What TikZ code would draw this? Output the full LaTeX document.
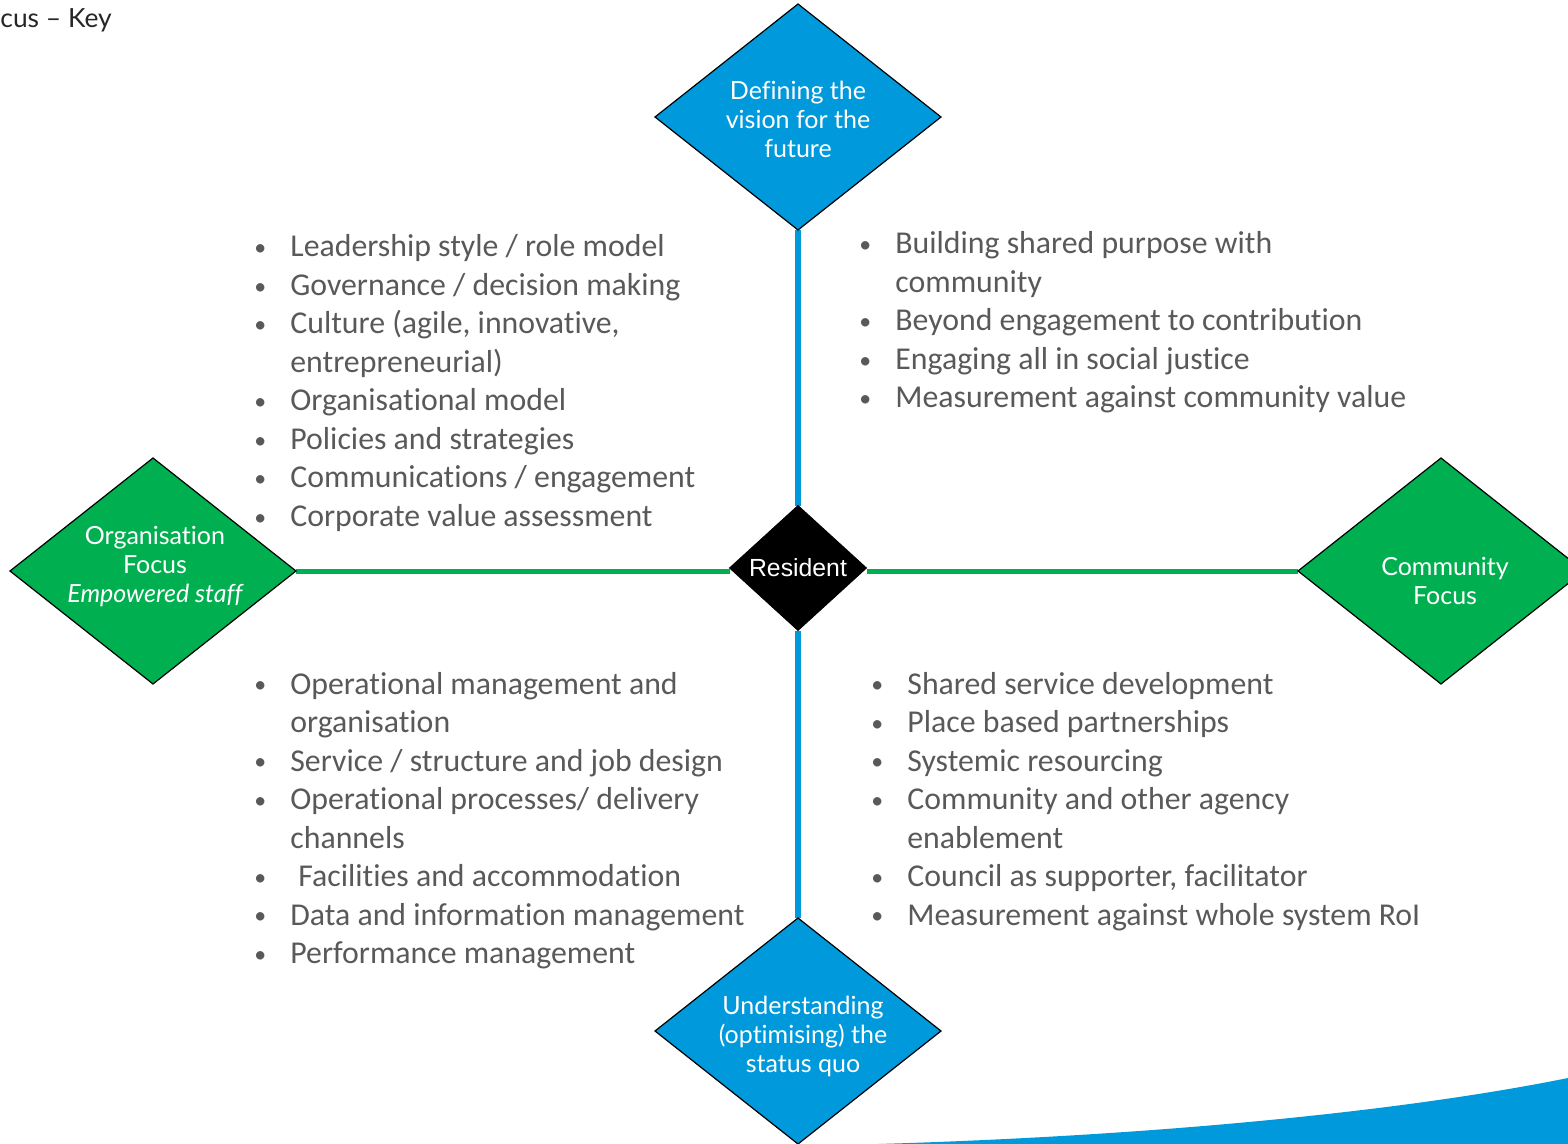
\documentclass[tikz,border=0pt]{standalone}
\usepackage{fontspec}
\setmainfont{Carlito}[Ligatures=NoCommon]
\newfontfamily\diafont{Lato}[Ligatures=NoCommon]
\newfontfamily\resfont{Liberation Sans}
\usetikzlibrary{shapes.geometric,backgrounds}
\definecolor{vblue}{RGB}{0,153,219}
\definecolor{fgreen}{RGB}{0,176,80}
\definecolor{bodygray}{RGB}{89,89,89}
\newcommand\bitem[1]{\makebox[18pt][l]{\raisebox{0.6pt}{\scalebox{0.75}{\textbullet}}}#1}
\newcommand\bcont[1]{\hspace*{18pt}#1}
\begin{document}
\begin{tikzpicture}[x=0.5pt,y=-0.5pt,
  bigdia/.style={diamond, draw=black, line width=0.6pt, minimum width=143pt,
    minimum height=113pt, inner sep=0pt, outer sep=0pt},
  bluedia/.style={bigdia, fill=vblue},
  greendia/.style={bigdia, fill=fgreen},
  diatext/.style={text=white, align=center, inner sep=0pt,
    font=\diafont\fontsize{12.5}{14.5}\selectfont},
  resdia/.style={diamond, fill=black, draw=black, minimum width=68.5pt,
    minimum height=62.5pt, inner sep=0pt, outer sep=0pt, aspect=1.1,
    text=white, font=\resfont\fontsize{12.4}{14}\selectfont},
  vline/.style={draw=vblue, line width=3pt},
  hline/.style={draw=fgreen, line width=2.5pt},
  blist/.style={anchor=base west, inner sep=0pt, text=bodygray,
    font=\fontsize{15.9}{19.25}\selectfont},
]
\useasboundingbox (0,0) rectangle (1568,1144);
\clip (0,0) rectangle (1568,1144);

% heading fragment
\node[anchor=base west, inner sep=0pt, text=black!85,
  font=\diafont\fontsize{13.2}{15}\selectfont] (head) at (0,28) {cus – Key};

% diamonds
\node[bluedia]  (vision) at (798,117) {};
\node[bluedia]  (status) at (798,1031) {};
\node[greendia] (org)    at (153,571) {};
\node[greendia] (comm)   at (1441,571) {};
\node[resdia]   (res)    at (798,568) {Resident};

\node[diatext] (visiont) at (798,119) {Defining the\\vision for the\\future};
\node[diatext] (statust) at (803,1036) {Understanding\\(optimising) the\\status quo};
\node[diatext] (orgt)    at (155,567) {Organisation\\Focus\\\itshape Empowered staff};
\node[diatext] (commt)   at (1445,581) {Community\\Focus};

% axes joining the diamonds
\begin{scope}[on background layer]
  \path[vline] (vision.south) -- (res.north);
  \path[vline] (res.south) -- (status.north);
  \path[hline] (org.east) -- (org.east -| res.west);
  \path[hline] (comm.west -| res.east) -- (comm.west);
\end{scope}

% bottom-right swoosh
\fill[vblue] (878,1144) .. controls (1150,1136) and (1400,1112) .. (1568,1078)
  -- (1568,1144) -- cycle;

% bullet lists
\node[blist] (tl) at (254,257) {\begin{tabular}[t]{@{}l@{}}
\bitem{Leadership style / role model}\\
\bitem{Governance / decision making}\\
\bitem{Culture (agile, innovative,}\\
\bcont{entrepreneurial)}\\
\bitem{Organisational model}\\
\bitem{Policies and strategies}\\
\bitem{Communications / engagement}\\
\bitem{Corporate value assessment}
\end{tabular}};

\node[blist] (tr) at (859,254) {\begin{tabular}[t]{@{}l@{}}
\bitem{Building shared purpose with}\\
\bcont{community}\\
\bitem{Beyond engagement to contribution}\\
\bitem{Engaging all in social justice}\\
\bitem{Measurement against community value}
\end{tabular}};

\node[blist] (bl) at (254,694) {\begin{tabular}[t]{@{}l@{}}
\bitem{Operational management and}\\
\bcont{organisation}\\
\bitem{Service / structure and job design}\\
\bitem{Operational processes/ delivery}\\
\bcont{channels}\\
\bitem{\hspace{4pt}Facilities and accommodation}\\
\bitem{Data and information management}\\
\bitem{Performance management}
\end{tabular}};

\node[blist] (br) at (871,694) {\begin{tabular}[t]{@{}l@{}}
\bitem{Shared service development}\\
\bitem{Place based partnerships}\\
\bitem{Systemic resourcing}\\
\bitem{Community and other agency}\\
\bcont{enablement}\\
\bitem{Council as supporter, facilitator}\\
\bitem{Measurement against whole system RoI}
\end{tabular}};
\end{tikzpicture}
\end{document}
